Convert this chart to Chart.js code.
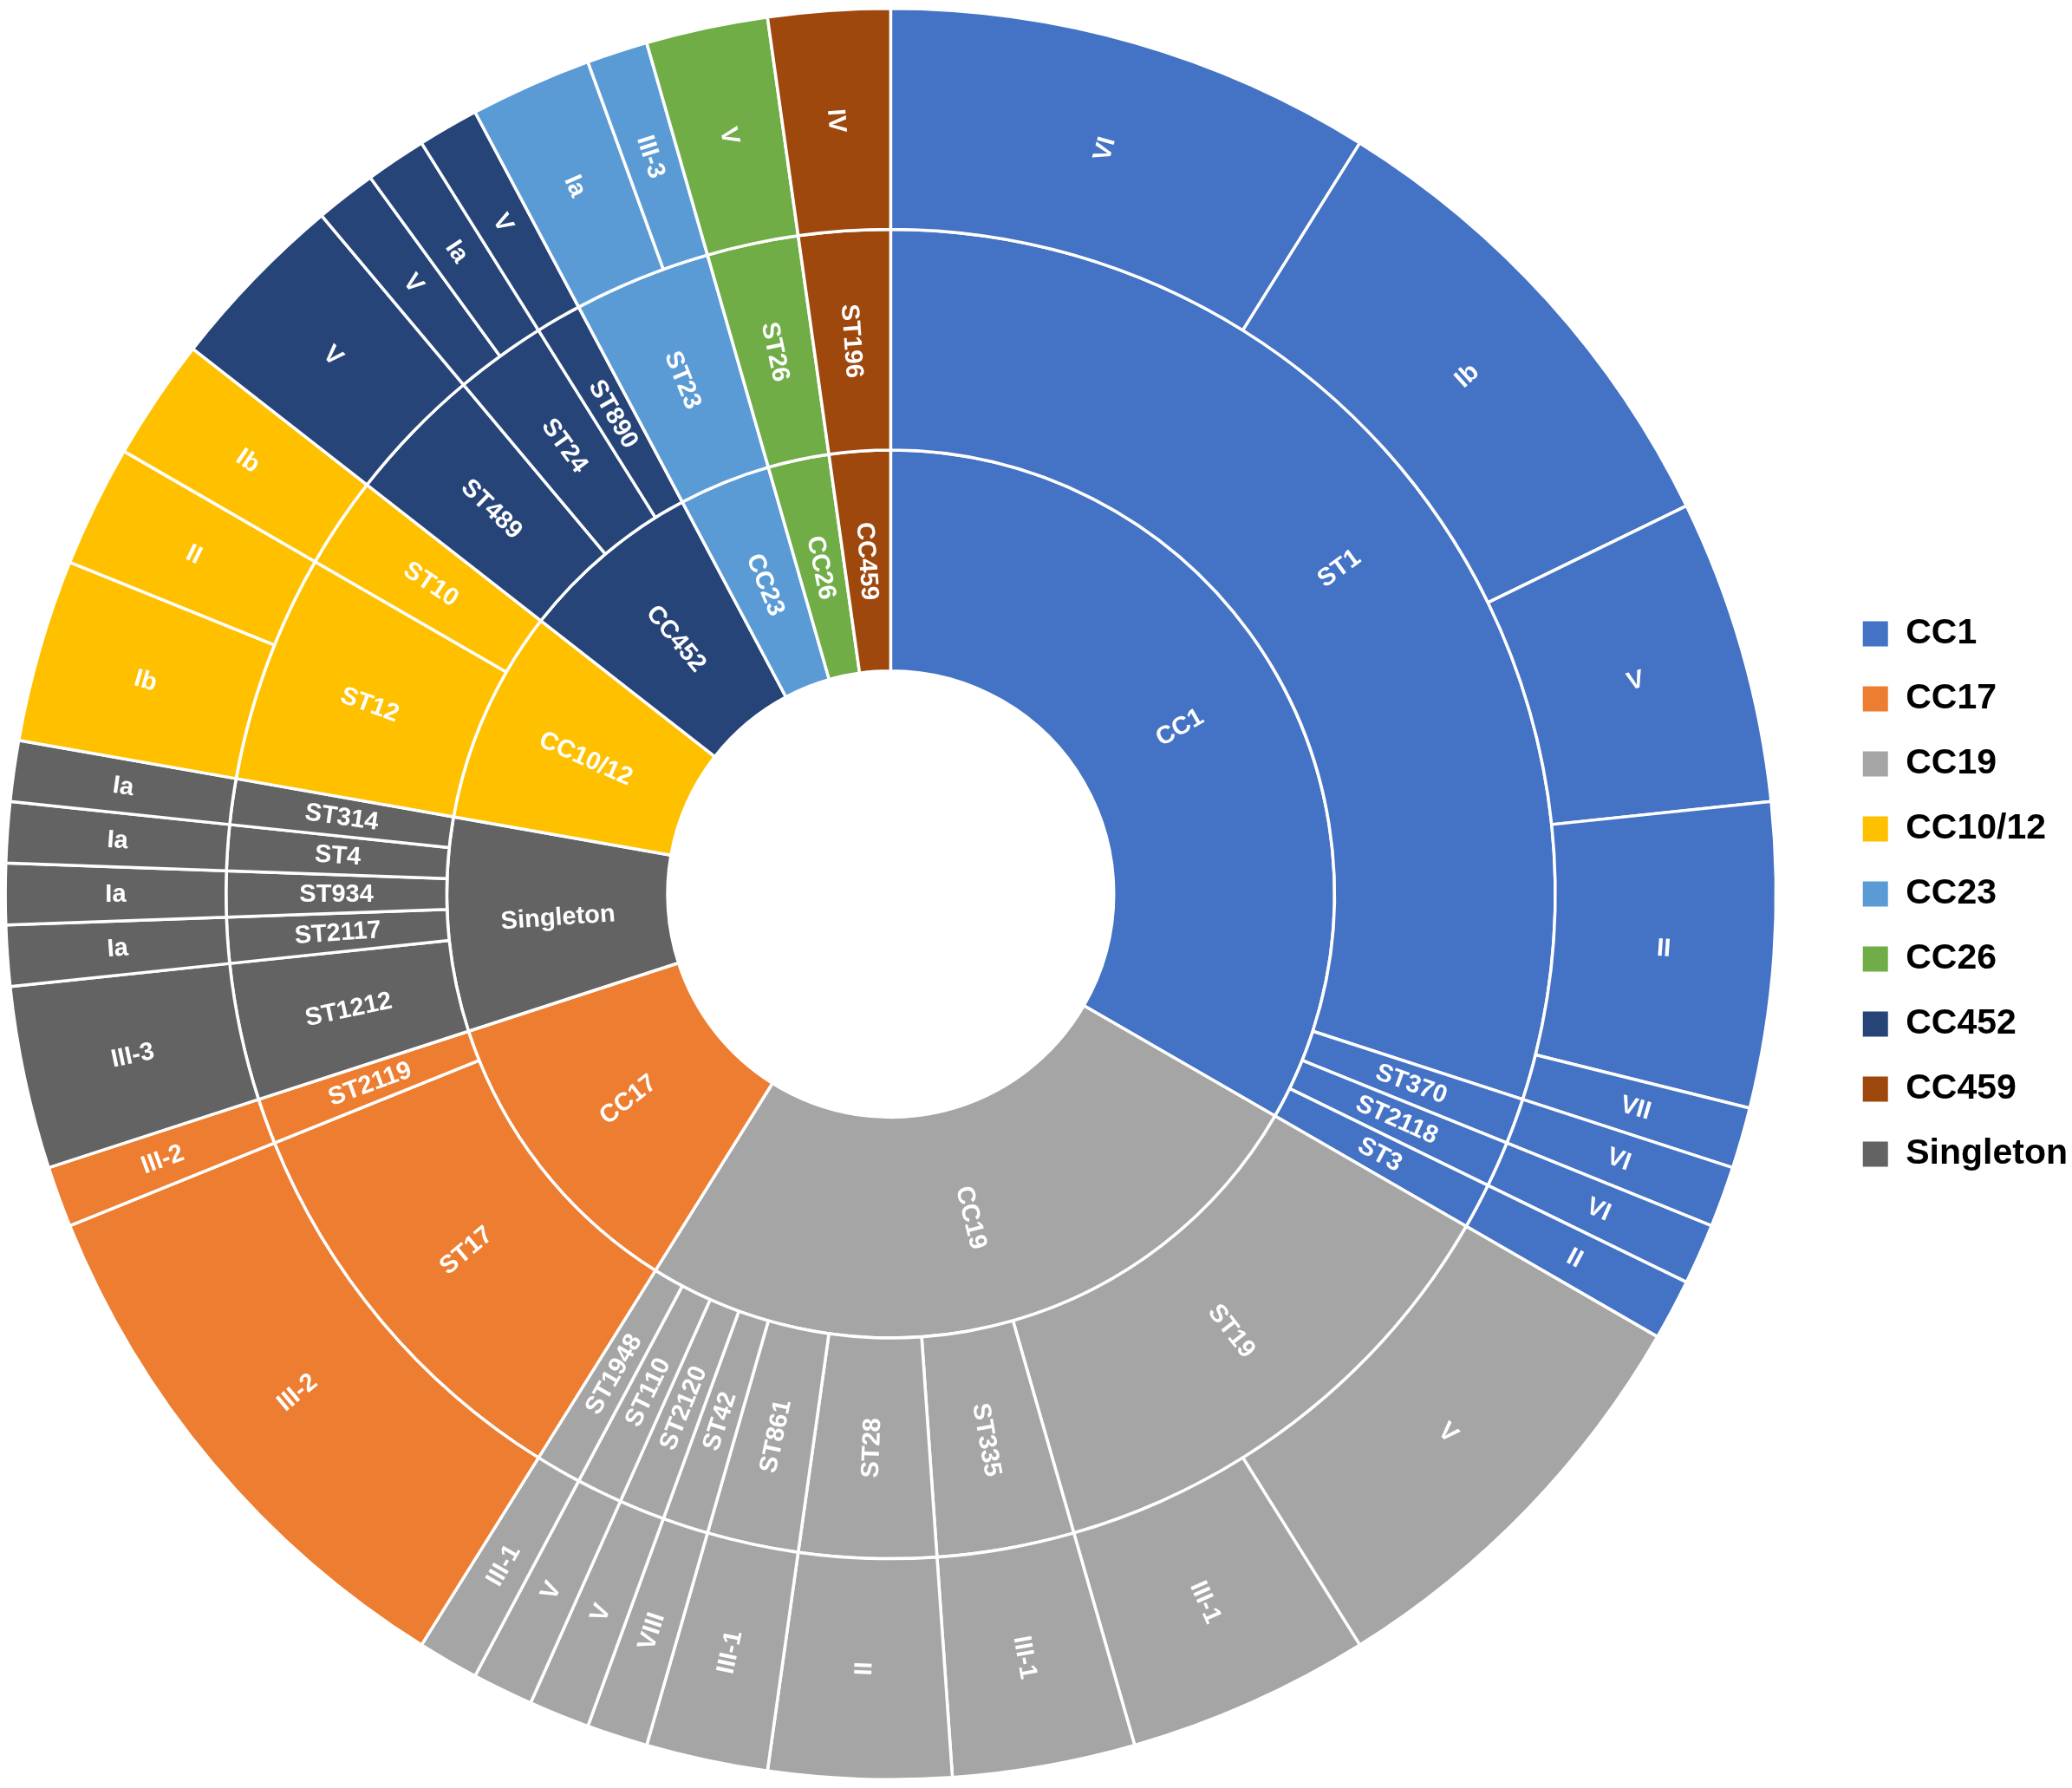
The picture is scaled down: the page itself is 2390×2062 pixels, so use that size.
<!DOCTYPE html>
<html>
<head>
<meta charset="utf-8">
<script src="https://cdn.jsdelivr.net/npm/chart.js@4/dist/chart.umd.min.js"></script>
<style>
  html, body { margin: 0; padding: 0; background: #ffffff; }
  #wrap { width: 2390px; height: 2062px; position: relative; }
</style>
</head>
<body>
<div id="wrap"><canvas id="c"></canvas></div>
<script>
// ---- Data (counts) ----
const ccLabels = ['CC1', 'CC19', 'CC17', 'Singleton', 'CC10/12', 'CC452', 'CC23', 'CC26', 'CC459'];
const ccCounts = [30, 23, 10, 7, 7, 6, 3, 2, 2];

const stLabels = ['ST1', 'ST370', 'ST2118', 'ST3',
  'ST19', 'ST335', 'ST28', 'ST861', 'ST42', 'ST2120', 'ST110', 'ST1948',
  'ST17', 'ST2119',
  'ST1212', 'ST2117', 'ST934', 'ST4', 'ST314',
  'ST12', 'ST10',
  'ST489', 'ST24', 'ST890',
  'ST23', 'ST26', 'ST196'];
const stCounts = [27, 1, 1, 1,
  11, 3, 3, 2, 1, 1, 1, 1,
  9, 1,
  3, 1, 1, 1, 1,
  5, 2,
  3, 2, 1,
  3, 2, 2];
const stGroup = ['CC1', 'CC1', 'CC1', 'CC1',
  'CC19', 'CC19', 'CC19', 'CC19', 'CC19', 'CC19', 'CC19', 'CC19',
  'CC17', 'CC17',
  'Singleton', 'Singleton', 'Singleton', 'Singleton', 'Singleton',
  'CC10/12', 'CC10/12',
  'CC452', 'CC452', 'CC452',
  'CC23', 'CC26', 'CC459'];

const seroLabels = ['VI', 'Ib', 'V', 'II', 'VII', 'VI', 'VI', 'II',
  'V', 'III-1', 'III-1', 'II', 'III-1', 'VIII', 'V', 'V', 'III-1',
  'III-2', 'III-2',
  'III-3', 'Ia', 'Ia', 'Ia', 'Ia',
  'Ib', 'II', 'Ib',
  'V', 'V', 'Ia', 'V',
  'Ia', 'III-3', 'V', 'IV'];
const seroCounts = [8, 8, 5, 5, 1, 1, 1, 1,
  7, 4, 3, 3, 2, 1, 1, 1, 1,
  9, 1,
  3, 1, 1, 1, 1,
  3, 2, 2,
  3, 1, 1, 1,
  2, 1, 2, 2];
const seroGroup = ['CC1', 'CC1', 'CC1', 'CC1', 'CC1', 'CC1', 'CC1', 'CC1',
  'CC19', 'CC19', 'CC19', 'CC19', 'CC19', 'CC19', 'CC19', 'CC19', 'CC19',
  'CC17', 'CC17',
  'Singleton', 'Singleton', 'Singleton', 'Singleton', 'Singleton',
  'CC10/12', 'CC10/12', 'CC10/12',
  'CC452', 'CC452', 'CC452', 'CC452',
  'CC23', 'CC23', 'CC26', 'CC459'];

const legendOrder = ['CC1', 'CC17', 'CC19', 'CC10/12', 'CC23', 'CC26', 'CC452', 'CC459', 'Singleton'];

// ---- Styles ----
const palette = {
  'CC1': '#4472C4', 'CC17': '#ED7D31', 'CC19': '#A5A5A5', 'CC10/12': '#FFC000',
  'CC23': '#5B9BD5', 'CC26': '#70AD47', 'CC452': '#264478', 'CC459': '#9E480E',
  'Singleton': '#636363'
};
const FONT = '"Liberation Sans", Arial, Helvetica, sans-serif';
const LEGEND_SHIFT = 60;

const labelPlugin = {
  id: 'ringLabels',
  afterLayout(chart) {
    if (chart.legend) {
      chart.legend.left += LEGEND_SHIFT;
      chart.legend.right += LEGEND_SHIFT;
    }
  },
  afterDatasetsDraw(chart) {
    const ctx = chart.ctx;
    ctx.save();
    ctx.fillStyle = '#ffffff';
    ctx.font = 'bold 29px ' + FONT;
    ctx.textAlign = 'center';
    ctx.textBaseline = 'middle';
    chart.data.datasets.forEach((ds, di) => {
      const meta = chart.getDatasetMeta(di);
      meta.data.forEach((arc, i) => {
        const p = arc.getProps(['x', 'y', 'startAngle', 'endAngle', 'innerRadius', 'outerRadius'], true);
        const mid = (p.startAngle + p.endAngle) / 2;
        const r = (p.innerRadius + p.outerRadius) / 2;
        const px = p.x + r * Math.cos(mid);
        const py = p.y + r * Math.sin(mid);
        let rot = Math.atan2(Math.sin(mid), Math.cos(mid));
        if (rot > Math.PI / 2) rot -= Math.PI;
        if (rot < -Math.PI / 2) rot += Math.PI;
        ctx.save();
        ctx.translate(px, py);
        ctx.rotate(rot);
        ctx.fillText(ds.labels[i], 0, 1);
        ctx.restore();
      });
    });
    ctx.restore();
  }
};

const mk = (labels, counts, groups) => ({
  labels: labels,
  data: counts,
  backgroundColor: groups.map(g => palette[g]),
  borderColor: '#ffffff',
  borderWidth: 3.5,
  hoverOffset: 0
});

new Chart(document.getElementById('c'), {
  type: 'doughnut',
  data: {
    labels: ccLabels,
    datasets: [
      mk(seroLabels, seroCounts, seroGroup),
      mk(stLabels, stCounts, stGroup),
      mk(ccLabels, ccCounts, ccLabels)
    ]
  },
  options: {
    responsive: true,
    maintainAspectRatio: false,
    devicePixelRatio: 1,
    animation: false,
    cutout: '25.2%',
    layout: { padding: { left: 0, right: 55, top: 8, bottom: 8 } },
    plugins: {
      tooltip: { enabled: false },
      legend: {
        position: 'right',
        onClick: null,
        labels: {
          boxWidth: 29,
          boxHeight: 29,
          padding: 34,
          color: '#000000',
          font: { family: FONT, size: 41, weight: 'bold' },
          generateLabels: () => legendOrder.map(n => ({
            text: n, fillStyle: palette[n], strokeStyle: palette[n], lineWidth: 0, hidden: false
          }))
        }
      }
    }
  },
  plugins: [labelPlugin]
});
</script>
</body>
</html>
